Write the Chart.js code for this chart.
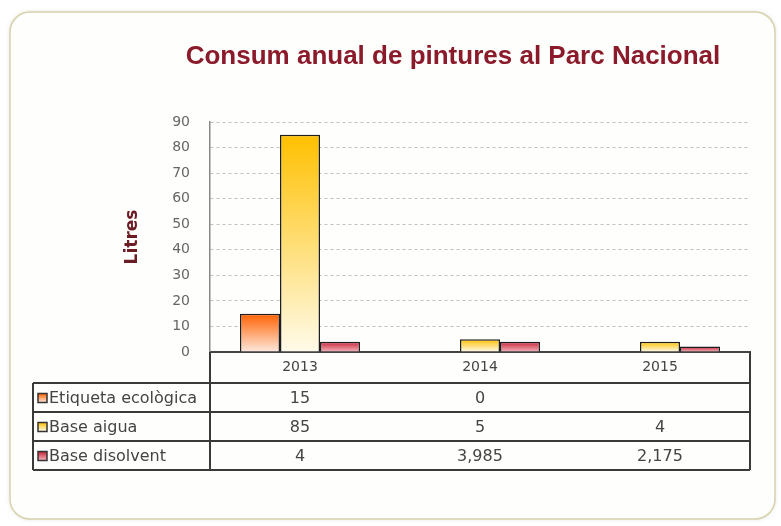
<!DOCTYPE html>
<html lang="ca">
<head>
<meta charset="UTF-8">
<title>Consum anual de pintures al Parc Nacional</title>
<script src="https://cdn.jsdelivr.net/npm/chart.js"></script>
<style>
  body { margin: 0; background: #ffffff; }
  canvas { display: block; }
</style>
</head>
<body>
<canvas id="chartCanvas" width="781" height="526"></canvas>
<script>
  // Litres per year and paint type
  const years = ['2013', '2014', '2015'];
  const seriesNames = ['Etiqueta ecològica', 'Base aigua', 'Base disolvent'];
  const ecologica = [15, 0, null];
  const aigua = [85, 5, 4];
  const disolvent = [4, 3.985, 2.175];
  const titleText = 'Consum anual de pintures al Parc Nacional';

  // gradient ends for each series (top of bar -> base)
  const topColors = ['#ff6000', '#ffc000', '#c8203a'];
  const baseColors = ['#fde9dd', '#fffbea', '#f4b7bd'];

  const font = 'DejaVu Sans';

  function barFill(i) {
    return (ctx) => {
      const y = ctx.chart.scales.y;
      if (!y || ctx.type !== 'data' || ctx.raw == null) return topColors[i];
      const top = y.getPixelForValue(ctx.raw);
      const base = y.getPixelForValue(0);
      if (!isFinite(top) || !isFinite(base) || base - top < 1) return topColors[i];
      const g = ctx.chart.ctx.createLinearGradient(0, top, 0, base);
      g.addColorStop(0, topColors[i]);
      g.addColorStop(1, baseColors[i]);
      return g;
    };
  }

  function fmt(v) {
    if (v == null) return '';
    return String(v).replace('.', ',');
  }

  // rounded frame behind everything, title on top
  const framePlugin = {
    id: 'frame',
    beforeDraw(chart) {
      const c = chart.ctx;
      c.save();
      c.shadowColor = 'rgba(120,115,80,0.25)';
      c.shadowBlur = 4;
      c.beginPath();
      c.roundRect(10, 12, 765, 507, 20);
      c.fillStyle = '#fefefc';
      c.fill();
      c.shadowColor = 'transparent';
      c.lineWidth = 1.5;
      c.strokeStyle = '#d7d1ad';
      c.stroke();
      c.restore();
    },
    afterDraw(chart) {
      const c = chart.ctx;
      c.save();
      c.font = 'bold 26px "Liberation Sans", Arial, sans-serif';
      c.fillStyle = '#8b1a2b';
      c.textAlign = 'center';
      c.textBaseline = 'middle';
      c.fillText(titleText, 453, 57);
      c.restore();
    }
  };

  // data table under the x axis
  const tablePlugin = {
    id: 'dataTable',
    afterDraw(chart) {
      const c = chart.ctx;
      const area = chart.chartArea;
      const xs = chart.scales.x;
      const rowTop = 383;
      const rowH = 29;
      const tableLeft = 33;
      const sets = chart.data.datasets;
      c.save();
      c.strokeStyle = '#3a3a3a';
      c.lineWidth = 2;
      c.beginPath();
      c.moveTo(area.left, area.bottom);
      c.lineTo(area.left, rowTop + rowH * sets.length);
      c.moveTo(area.right, area.bottom);
      c.lineTo(area.right, rowTop + rowH * sets.length);
      c.moveTo(tableLeft, rowTop);
      c.lineTo(tableLeft, rowTop + rowH * sets.length);
      for (let r = 0; r <= sets.length; r++) {
        c.moveTo(tableLeft, rowTop + r * rowH);
        c.lineTo(area.right, rowTop + r * rowH);
      }
      c.stroke();

      c.textBaseline = 'middle';
      sets.forEach((ds, i) => {
        const cy = rowTop + i * rowH + rowH / 2;
        // legend key
        const g = c.createLinearGradient(0, cy - 4, 0, cy + 5);
        g.addColorStop(0, topColors[i]);
        g.addColorStop(1, baseColors[i]);
        c.fillStyle = g;
        c.fillRect(38, cy - 4, 9, 9);
        c.lineWidth = 1.5;
        c.strokeStyle = '#333';
        c.strokeRect(38, cy - 4, 9, 9);
        c.fillStyle = '#444';
        c.textAlign = 'left';
        c.font = '16px "' + font + '"';
        c.fillText(ds.label, 49, cy + 1);
        c.textAlign = 'center';
        ds.data.forEach((v, j) => {
          c.fillText(fmt(v), xs.getPixelForValue(j), cy + 1);
        });
      });
      c.restore();
    }
  };

  const ctx = document.getElementById('chartCanvas').getContext('2d');
  const chart = new Chart(ctx, {
    type: 'bar',
    data: {
      labels: years,
      datasets: [
        { label: seriesNames[0], data: ecologica, backgroundColor: barFill(0) },
        { label: seriesNames[1], data: aigua, backgroundColor: barFill(1) },
        { label: seriesNames[2], data: disolvent, backgroundColor: barFill(2) }
      ]
    },
    options: {
      responsive: false,
      animation: false,
      layout: { padding: { top: 122, left: 122, right: 31, bottom: 143 } },
      datasets: {
        bar: {
          borderColor: '#1e1e1e',
          borderWidth: 1.5,
          categoryPercentage: 0.667,
          barPercentage: 1.0
        }
      },
      plugins: {
        legend: { display: false },
        tooltip: { enabled: false }
      },
      scales: {
        x: {
          grid: { display: false, drawTicks: false },
          border: { color: '#444', width: 2 },
          ticks: { color: '#444', font: { family: font, size: 14 }, padding: 7 },
          afterFit(s) { s.height = 31; }
        },
        y: {
          min: 0,
          max: 90,
          grid: { color: '#c0c0c0', drawTicks: false },
          border: { color: '#888', width: 1.5, dash: [3, 3] },
          ticks: { stepSize: 10, color: '#666', font: { family: font, size: 14 }, padding: 20 },
          title: {
            display: true,
            text: 'Litres',
            color: '#6b1c24',
            font: { family: font, size: 17, weight: 'bold' },
            padding: { top: 0, bottom: 4 }
          },
          afterFit(s) { s.width = 88; }
        }
      }
    },
    plugins: [framePlugin, tablePlugin]
  });
</script>
</body>
</html>
